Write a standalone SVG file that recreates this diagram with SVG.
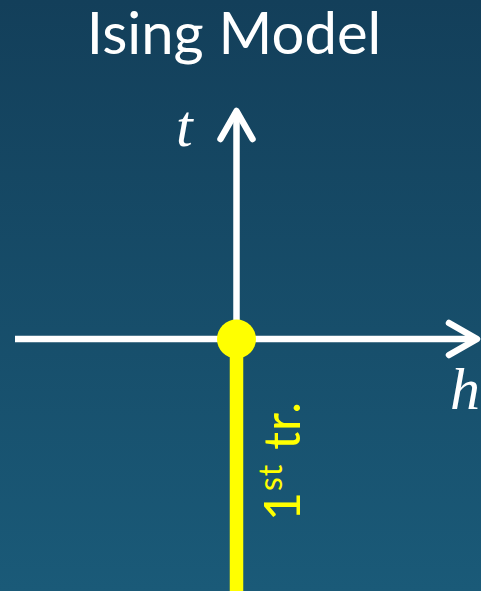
<svg xmlns="http://www.w3.org/2000/svg" width="481" height="591" viewBox="0 0 481 591">
  <defs>
    <linearGradient id="bg" x1="0" y1="0" x2="0" y2="1">
      <stop offset="0" stop-color="#133f5a"/>
      <stop offset="1" stop-color="#1a5a78"/>
    </linearGradient>
    <style>
      .ax { stroke: #ffffff; stroke-width: 6.5; fill: none; stroke-linecap: round; stroke-linejoin: round; }
      .math { font-family: "Liberation Serif", "DejaVu Serif", serif; font-style: italic; font-size: 60px; fill: #ffffff; }
      .yl { fill: #ffff00; }
    </style>
  </defs>
  <rect width="481" height="591" fill="url(#bg)"/>
  <text id="title" x="234" y="54" text-anchor="middle" font-family="Lato, 'Open Sans', sans-serif" font-size="58" fill="#ffffff">Ising Model</text>
  <g id="connectors">
    <line class="ax" x1="15" y1="339" x2="475" y2="339" style="stroke-linecap:butt"/>
    <polyline class="ax" points="449,323 477,339 449,355"/>
    <line class="ax" x1="236.5" y1="339" x2="236.5" y2="112" style="stroke-linecap:butt"/>
    <polyline class="ax" points="220.5,139 236.5,111 252.5,139"/>
    <line x1="236.5" y1="339" x2="236.5" y2="591" stroke="#ffff00" stroke-width="13.5"/>
  </g>
  <g id="label-t"><text class="math" x="176" y="146">t</text></g>
  <g id="label-h"><text class="math" x="450" y="409">h</text></g>
  <g id="critical-point"><circle class="yl" cx="236.5" cy="339" r="19.5"/></g>
  <g id="label-transition">
    <text transform="translate(300,521) rotate(-90)" font-family="Lato, 'Open Sans', sans-serif" font-size="50" fill="#ffff00" letter-spacing="1"><tspan>1</tspan><tspan font-size="32" dy="-18">st</tspan><tspan dy="18"> tr.</tspan></text>
  </g>
</svg>
